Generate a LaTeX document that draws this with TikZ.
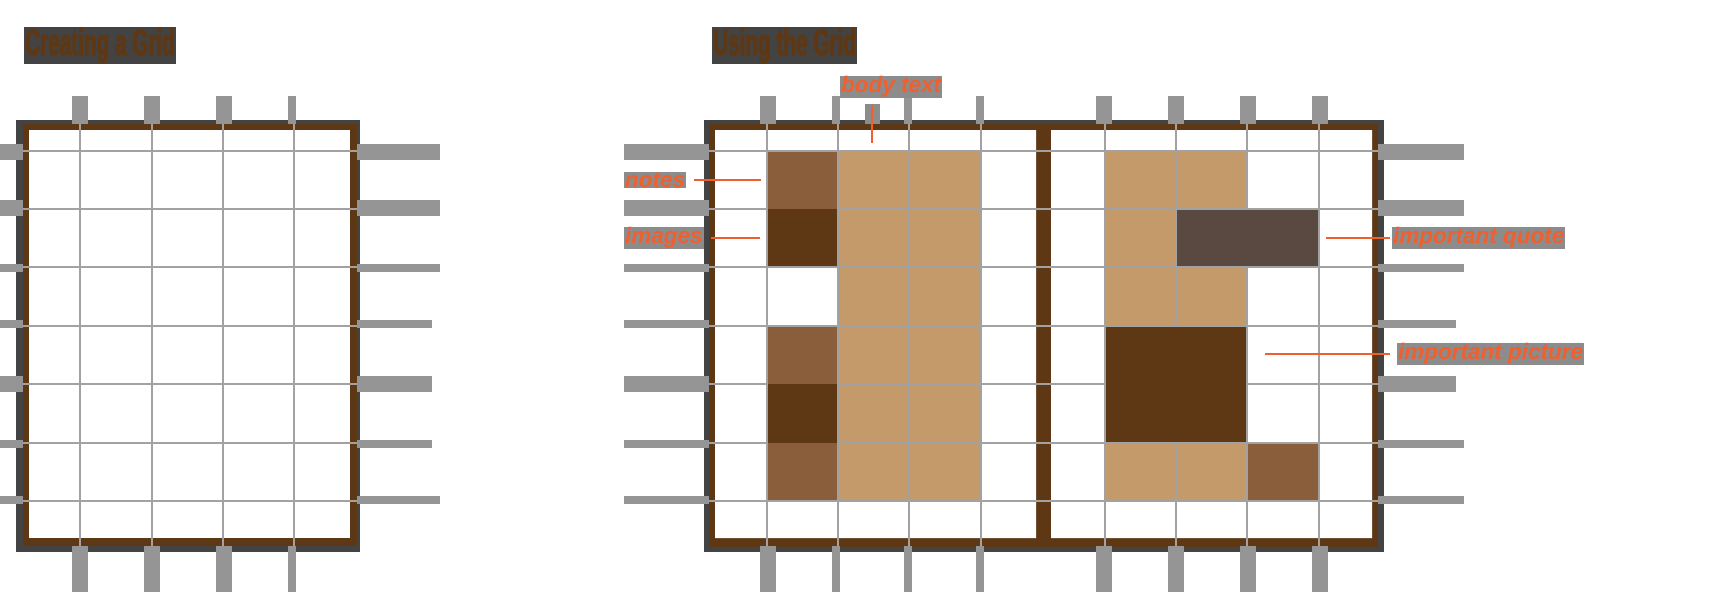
\documentclass[tikz,border=0pt]{standalone}
\usepackage{fontspec}
\setmainfont{Liberation Sans}
\newfontfamily\titlefont{Liberation Sans Bold}[FakeStretch=0.56, FakeBold=2.5]
\definecolor{framebrown}{HTML}{5E3814}
\definecolor{shadowgray}{HTML}{434343}
\definecolor{tickgray}{HTML}{959595}
\definecolor{linegray}{HTML}{A2A2A2}
\definecolor{celltan}{HTML}{C49A6A}
\definecolor{cellmid}{HTML}{8A5E3A}
\definecolor{celldark}{HTML}{5E3814}
\definecolor{quotebrown}{HTML}{5A4940}
\definecolor{labelorange}{HTML}{F0602E}
\definecolor{labelgray}{HTML}{8C8C8C}
\tikzset{
  gridtitle/.style={fill=shadowgray, text=framebrown, inner sep=1pt, anchor=base west,
    font=\fontsize{37}{40}\titlefont},
  callout/.style={fill=labelgray, text=labelorange, inner sep=1pt, anchor=west,
    font=\fontsize{22.5}{26}\selectfont\bfseries\itshape},
  leader/.style={draw=labelorange, line width=2pt},
  tickmark/.style={fill=tickgray},
  gridline/.style={draw=linegray, line width=2pt}
}
\begin{document}
\begin{tikzpicture}[x=1pt,y=-1pt]
			\useasboundingbox (0,0) rectangle (1713,597);
			% frames
			\fill[shadowgray] (16,120) rectangle (360,552);
			\fill[framebrown] (23,124) rectangle (357,546);
			\fill[white] (29,130) rectangle (350,538);
			\fill[shadowgray] (704,120) rectangle (1384,552);
			\fill[framebrown] (709,124) rectangle (1378,547);
			\fill[white] (715,130) rectangle (1036,538) (1051,130) rectangle (1372,538);
			% cells under the lines
			\fill[celltan] (838,151) rectangle (981,501);
			\fill[celltan] (1105,151) rectangle (1247,209)
			(1105,209) rectangle (1176,267)
			(1105,267) rectangle (1247,326)
			(1105,443) rectangle (1247,501);
			% grid
			\foreach \y in {151,209,267,326,384,443,501} {
				\draw[gridline] (16,\y) -- (360,\y);
				\draw[gridline] (704,\y) -- (1384,\y);
			}
			\foreach \x in {80,152,223,294,767,838,909,981,1105,1176,1247,1319}
				\draw[gridline] (\x,120) -- (\x,552);
			% blocks over the lines
			\fill[cellmid] (768,152) rectangle (837,209);
			\fill[celldark] (768,209) rectangle (837,266);
			\fill[cellmid] (768,327) rectangle (837,384);
			\fill[celldark] (768,384) rectangle (837,443);
			\fill[cellmid] (768,443) rectangle (837,500);
			\fill[quotebrown] (1177,210) rectangle (1318,266);
			\fill[celldark] (1106,327) rectangle (1246,442);
			\fill[cellmid] (1248,444) rectangle (1318,500);
			% ticks
			\foreach \a/\b in {72/88,144/160,216/232,288/296,760/776,832/840,904/912,976/984,1096/1112,1168/1184,1240/1256,1312/1328} {
				\fill[tickmark] (\a,96) rectangle (\b,124);
				\fill[tickmark] (\a,546) rectangle (\b,592);
			}
			\foreach \t/\u/\r/\s in {144/160/440/1464, 200/216/440/1464, 264/272/440/1464, 320/328/432/1456, 376/392/432/1456, 440/448/432/1464, 496/504/440/1464} {
				\fill[tickmark] (0,\t) rectangle (23,\u);
				\fill[tickmark] (357,\t) rectangle (\r,\u);
				\fill[tickmark] (624,\t) rectangle (709,\u);
				\fill[tickmark] (1378,\t) rectangle (\s,\u);
			}
			% titles
			\node[gridtitle] (create-title) at (24,55) {Creating a Grid};
			\node[gridtitle] (use-title) at (712,55) {Using the Grid};
			% labels
			\node[callout] (notes) at (624,180) {notes};
			\node[callout] (images) at (624,238) {images};
			\node[callout] (body) at (840,87) {body text};
			\node[callout] (quote) at (1392,238) {important quote};
			\node[callout] (picture) at (1397,354) {important picture};
			\path (761,180) coordinate (notes-tip)
			(760,238) coordinate (images-tip)
			(872,143) coordinate (body-tip)
			(1326,238) coordinate (quote-tip)
			(1265,354) coordinate (picture-tip);
			\fill[labelgray] (865,104) rectangle (880,124);
			\draw[leader, shorten <=8pt] (notes.east) -- (notes-tip);
			\draw[leader, shorten <=7pt] (images.east) -- (images-tip);
			\draw[leader, shorten <=7pt] (body.south -| body-tip) -- (body-tip);
			\draw[leader, shorten >=2pt] (quote-tip) -- (quote.west);
			\draw[leader, shorten >=7pt] (picture-tip) -- (picture.west);
\end{tikzpicture}
\end{document}
